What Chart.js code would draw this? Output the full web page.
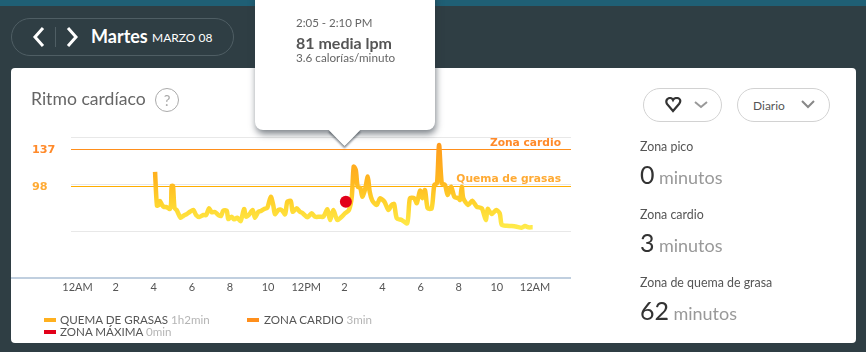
<!DOCTYPE html>
<html lang="es">
<head>
    <meta charset="UTF-8">
    <title>Ritmo cardíaco</title>
    <style>
        * { box-sizing: border-box; }
        html, body { margin: 0; width: 866px; height: 352px; overflow: hidden; }
        body { background: #2f3e44; font-family: Lato, sans-serif; position: relative; }
        .abs { position: absolute; white-space: nowrap; }
        #strip { left: 0; top: 0; width: 866px; height: 6px; background: #1f5f75; }
        #nav { left: 11px; top: 18px; width: 223px; height: 38px; border: 1px solid #4f5e64; border-radius: 19px; }
        #divider { left: 55px; top: 27px; width: 1px; height: 20px; background: #4f5e64; }
        #day { left: 91px; top: 25px; color: #fff; font-size: 18px; font-weight: 700; }
        #date { left: 152px; top: 30px; color: #fff; font-size: 12px; }
        #card { left: 11px; top: 68px; width: 845px; height: 275px; background: #fff; border-radius: 4px; }
        canvas { position: absolute; left: 0; top: 0; }
        #title { left: 31px; top: 88px; font-size: 17.6px; color: #666; }
        #help { left: 155px; top: 88px; width: 24px; height: 24px; border: 1px solid #aaa; border-radius: 50%; color: #aaa; font-size: 15px; text-align: center; line-height: 22px; }
        .pill { top: 88px; height: 34px; border: 1px solid #d2d2d2; border-radius: 17px; background: #fff; }
        .stat-label { left: 640px; font-size: 12.4px; color: #555; }
        .stat-num { left: 640px; font-size: 25px; color: #333; line-height: 32px; }
        .stat-num span { font-size: 18px; color: #999; margin-left: -2px; }
        .legend { font-size: 11.6px; color: #555; }
        .legend i { font-style: normal; color: #b5b5b5; }
        .swatch { width: 12px; height: 4px; }
        #tip { left: 255px; top: -10px; width: 180px; height: 140px; background: #fff; border-radius: 8px; box-shadow: 1px 4px 7px rgba(40, 50, 60, .6); }
        .arrow { left: 333px; top: 118px; width: 23px; height: 23px; background: #fff; transform: rotate(45deg); }
        #arrowShadow { box-shadow: 2px 2px 2px rgba(40, 50, 60, .5); }
    </style>
</head>
<body>
    <div class="abs" id="strip"></div>

    <!-- Navegación de fecha -->
    <div class="abs" id="nav"></div>
    <svg class="abs" style="left:30px;top:26px" width="52" height="22" fill="none" stroke="#fff" stroke-width="3">
        <path d="M13 2 L5 11 L13 20"/>
        <path d="M38 2 L46 11 L38 20"/>
    </svg>
    <div class="abs" id="divider"></div>
    <div class="abs" id="day">Martes</div>
    <div class="abs" id="date">MARZO 08</div>

    <div class="abs" id="card"></div>
    <canvas id="heartChart" width="866" height="352"></canvas>

    <div class="abs" id="title">Ritmo cardíaco</div>
    <div class="abs" id="help">?</div>

    <!-- Selectores -->
    <div class="abs pill" style="left:643px;width:79px"></div>
    <svg class="abs" style="left:664px;top:97px" width="46" height="16" fill="none">
        <path d="M8 14 L2 7 C0 3 3 1 5 1 C7 1 8 3 8 3 C8 3 9 1 12 1 C14 1 17 3 14 7 Z" transform="translate(1 0)" stroke="#333" stroke-width="2.2"/>
        <path d="M31 5 L37 10 L43 5" stroke="#999" stroke-width="2"/>
    </svg>
    <div class="abs pill" style="left:737px;width:93px"></div>
    <div class="abs" style="left:753px;top:98px;font-size:12px;color:#555">Diario</div>
    <svg class="abs" style="left:800px;top:99px" width="18" height="12" fill="none">
        <path d="M2 2 L8 8 L14 2" stroke="#888" stroke-width="2"/>
    </svg>

    <!-- Resumen de zonas -->
    <div class="abs stat-label" style="top:139px">Zona pico</div>
    <div class="abs stat-num" style="top:158px">0 <span>minutos</span></div>
    <div class="abs stat-label" style="top:207px">Zona cardio</div>
    <div class="abs stat-num" style="top:226px">3 <span>minutos</span></div>
    <div class="abs stat-label" style="top:275px">Zona de quema de grasa</div>
    <div class="abs stat-num" style="top:294px">62 <span>minutos</span></div>

    <!-- Leyenda -->
    <div class="abs swatch" style="left:44px;top:318px;background:#ffb01f"></div>
    <div class="abs legend" style="left:60px;top:313px">QUEMA DE GRASAS <i>1h2min</i></div>
    <div class="abs swatch" style="left:247px;top:318px;background:#ff8f1c"></div>
    <div class="abs legend" style="left:264px;top:313px">ZONA CARDIO <i>3min</i></div>
    <div class="abs swatch" style="left:44px;top:330px;background:#e2001a"></div>
    <div class="abs legend" style="left:60px;top:325px">ZONA MÁXIMA <i>0min</i></div>

    <!-- Tooltip -->
    <div class="abs arrow" id="arrowShadow"></div>
    <div class="abs" id="tip"></div>
    <div class="abs arrow"></div>
    <div class="abs" style="left:296px;top:16px;font-size:11.5px;color:#666">2:05 - 2:10 PM</div>
    <div class="abs" style="left:296px;top:33px;font-size:16px;font-weight:700;color:#555">81 media lpm</div>
    <div class="abs" style="left:296px;top:50px;font-size:11.7px;color:#666">3.6 calorías/minuto</div>

    <script src="https://cdn.jsdelivr.net/npm/chart.js"></script>
    <script>
        // Datos
        const hours = [4.07, 4.17, 4.28, 4.33, 4.43, 4.54, 4.64, 4.75, 4.85, 4.91, 4.94, 5.01, 5.09, 5.20, 5.41, 5.55, 5.73, 5.90, 6.08, 6.22, 6.39, 6.60, 6.75, 6.90, 7.04, 7.21, 7.39, 7.53, 7.65, 7.83, 7.91, 8.09, 8.21, 8.38, 8.56, 8.74, 8.84, 8.99, 9.19, 9.31, 9.49, 9.63, 9.79, 9.96, 10.14, 10.27, 10.36, 10.54, 10.71, 10.89, 11.01, 11.19, 11.29, 11.50, 11.67, 11.82, 12.06, 12.29, 12.46, 12.72, 12.90, 13.11, 13.25, 13.42, 13.63, 13.86, 14.03, 14.24, 14.39, 14.49, 14.60, 14.70, 14.84, 14.94, 15.08, 15.23, 15.33, 15.47, 15.70, 15.87, 16.10, 16.31, 16.48, 16.61, 16.75, 17.01, 17.30, 17.44, 17.67, 17.80, 17.97, 18.09, 18.23, 18.37, 18.58, 18.72, 18.86, 18.97, 19.11, 19.28, 19.42, 19.60, 19.77, 19.98, 20.07, 20.16, 20.24, 20.50, 20.71, 20.94, 21.21, 21.42, 21.52, 21.73, 21.97, 22.15, 22.26, 22.52, 22.78, 23.04, 23.30, 23.48, 23.65, 23.88];
        const bpm = [113, 77, 78, 82, 78, 75.5, 75.5, 74.5, 73.4, 79, 98, 98, 74.5, 72.3, 64.1, 66, 68, 70.5, 72.3, 67, 64.9, 67, 67, 74.1, 69.9, 70.2, 67, 66, 71.6, 71.6, 62.8, 65.2, 62.4, 64.1, 60.6, 73.4, 65.2, 67, 72.3, 64.1, 70.5, 71.3, 73.4, 74.8, 86.5, 77.7, 68, 72.3, 72.3, 67.8, 81.2, 81.9, 70.5, 74.1, 70.5, 68.8, 64.6, 68.8, 65.2, 65.2, 65.2, 73.1, 61.7, 72.3, 61.7, 65.2, 68.8, 72.3, 86.5, 118.4, 114.9, 97.1, 95.7, 86.5, 93.6, 107.8, 91.8, 82.2, 77.7, 84.8, 81.2, 72.3, 77.7, 78.7, 63.5, 61.7, 58.2, 84.8, 84.8, 79.5, 92.9, 84.8, 93.6, 74.1, 74.1, 98.9, 100.7, 141.5, 100.7, 98.9, 88.3, 97.1, 86.5, 84.8, 83, 97.1, 84.8, 77.7, 82.2, 75.9, 74.1, 61.7, 73.4, 68.1, 72.3, 68.8, 56.4, 55.6, 55.3, 54.6, 53.5, 55.3, 53.9, 53.9];
        const tickHours = [0, 2, 4, 6, 8, 10, 12, 14, 16, 18, 20, 22, 24];
        const tickLabels = ['12AM', '2', '4', '6', '8', '10', '12PM', '2', '4', '6', '8', '10', '12AM'];
        const gridValues = [0, 50, 100, 150];
        const zoneCardio = 137;
        const zoneFat = 98;
        const selectedHour = 14.08;
        const selectedBpm = 81;

        const xMin = -0.34;
        const xMax = 25.89;

        // Etiquetas de zona y línea base del eje
        const zonePlugin = {
            id: 'zonePlugin',
            // las líneas de zona se ajustan al píxel para que salgan nítidas
            beforeDatasetDraw(chart, args) {
                const zone = chart.data.datasets[args.index].zoneValue;
                if (zone === undefined) return;
                const p = chart.scales.y.getPixelForValue(zone);
                chart.ctx.save();
                chart.ctx.translate(0, Math.round(p) + 0.5 - p);
            },
            afterDatasetDraw(chart, args) {
                if (chart.data.datasets[args.index].zoneValue !== undefined) chart.ctx.restore();
            },
            afterDatasetsDraw(chart) {
                const { ctx, chartArea, scales } = chart;
                const y0 = scales.y.getPixelForValue(0);
                ctx.save();
                ctx.fillStyle = '#c0cfdf';
                ctx.fillRect(11, y0 - 1, chartArea.right - 11, 2);
                ctx.textBaseline = 'middle';
                ctx.textAlign = 'left';
                ctx.font = 'bold 11.2px "DejaVu Sans"';
                ctx.fillStyle = '#ff8a2a';
                ctx.fillText(String(zoneCardio), 32, scales.y.getPixelForValue(zoneCardio) + 1);
                ctx.fillStyle = '#ffaa33';
                ctx.fillText(String(zoneFat), 32, scales.y.getPixelForValue(zoneFat) + 1);
                ctx.textAlign = 'right';
                ctx.font = 'bold 10.7px "DejaVu Sans"';
                ctx.fillStyle = '#ff8a2a';
                ctx.fillText('Zona cardio', 561, scales.y.getPixelForValue(zoneCardio) - 6);
                ctx.fillStyle = '#ffaa33';
                ctx.fillText('Quema de grasas', 561, scales.y.getPixelForValue(zoneFat) - 7);
                ctx.restore();
            }
        };

        // Degradado de amarillo a naranja según la altura
        function lineGradient(context) {
            const { ctx, chartArea, scales } = context.chart;
            if (!chartArea) return '#ffc82e';
            const g = ctx.createLinearGradient(0, scales.y.getPixelForValue(50), 0, scales.y.getPixelForValue(145));
            g.addColorStop(0, '#ffee4f');
            g.addColorStop(0.3, '#ffd52e');
            g.addColorStop(0.55, '#ffb820');
            g.addColorStop(1, '#ff9a1c');
            return g;
        }

        const ctx = document.getElementById('heartChart').getContext('2d');
        const chart = new Chart(ctx, {
            type: 'line',
            plugins: [zonePlugin],
            data: {
                datasets: [
                    {
                        label: 'Selección',
                        data: [{ x: selectedHour, y: selectedBpm }],
                        pointRadius: 6,
                        pointBackgroundColor: '#e2001a',
                        pointBorderWidth: 0,
                        showLine: false
                    },
                    {
                        label: 'Ritmo',
                        data: hours.map((h, i) => ({ x: h, y: bpm[i] })),
                        borderColor: lineGradient,
                        borderWidth: 4.5,
                        borderJoinStyle: 'round',
                        borderCapStyle: 'butt',
                        tension: 0.25,
                        pointRadius: 0
                    },
                    {
                        label: 'Zona cardio',
                        zoneValue: zoneCardio,
                        data: [{ x: xMin, y: zoneCardio }, { x: xMax, y: zoneCardio }],
                        borderColor: '#ff8f1c',
                        borderWidth: 1,
                        pointRadius: 0
                    },
                    {
                        label: 'Quema de grasas',
                        zoneValue: zoneFat,
                        data: [{ x: xMin, y: zoneFat }, { x: xMax, y: zoneFat }],
                        borderColor: '#ffae00',
                        borderWidth: 1,
                        pointRadius: 0
                    }
                ]
            },
            options: {
                responsive: false,
                animation: false,
                layout: { padding: { left: 71, right: 295, top: 137, bottom: 0 } },
                plugins: { legend: { display: false }, tooltip: { enabled: false } },
                scales: {
                    x: {
                        type: 'linear',
                        min: xMin,
                        max: xMax,
                        afterBuildTicks: (scale) => { scale.ticks = tickHours.map(v => ({ value: v })); },
                        afterFit: (scale) => { scale.height = 74; },
                        grid: { display: false, drawTicks: false },
                        border: { display: false },
                        ticks: {
                            autoSkip: false,
                            maxRotation: 0,
                            padding: 3,
                            color: '#555',
                            font: { family: 'Lato', size: 11 },
                            callback: (value, index) => tickLabels[index]
                        }
                    },
                    y: {
                        min: 0,
                        max: 150,
                        afterBuildTicks: (scale) => { scale.ticks = gridValues.map(v => ({ value: v })); },
                        afterFit: (scale) => { scale.width = 0; },
                        border: { display: false },
                        grid: { color: '#e8e8e8', drawTicks: false },
                        ticks: { display: false }
                    }
                }
            }
        });
    </script>
</body>
</html>
